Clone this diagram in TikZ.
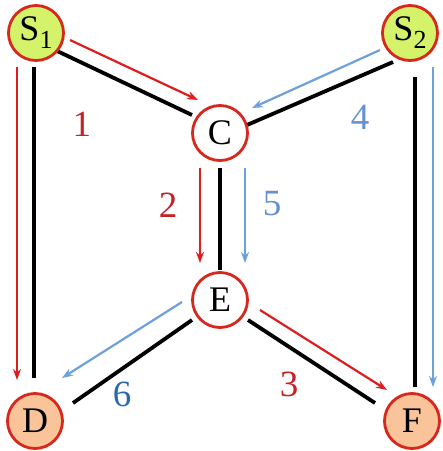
\documentclass[tikz,border=0pt]{standalone}
\usepackage{fontspec}
\setmainfont{Liberation Serif}
\usetikzlibrary{arrows.meta}
\definecolor{ringred}{RGB}{214,40,28}
\definecolor{arrred}{RGB}{222,30,30}
\definecolor{lblred}{RGB}{196,34,40}
\definecolor{arrblue}{RGB}{110,160,220}
\definecolor{lblblue}{RGB}{100,145,210}
\definecolor{darkblue}{RGB}{40,105,175}
\definecolor{sfill}{RGB}{212,242,106}
\definecolor{dfill}{RGB}{249,196,154}
\tikzset{
  vnode/.style={circle, draw=ringred, line width=2.8pt, minimum size=55pt, inner sep=0pt,
    font=\fontsize{36}{40}\selectfont},
  srcnode/.style={vnode, fill=sfill},
  sinknode/.style={vnode, fill=dfill},
  midnode/.style={vnode, fill=white},
  blackedge/.style={draw=black, line width=3.8pt},
  redarr/.style={draw=arrred, line width=2.2pt, -{Stealth[length=11pt,width=8pt]}},
  bluearr/.style={draw=arrblue, line width=2.2pt, -{Stealth[length=11pt,width=8pt]}},
  numlbl/.style={font=\fontsize{37}{40}\selectfont, inner sep=0pt}
}
\begin{document}
\begin{tikzpicture}[x=1pt,y=-1pt]
\useasboundingbox (0,0) rectangle (443,451);
\fill[white] (0,0) rectangle (443,451);
\coordinate (pS1) at (36,33);
\coordinate (pS2) at (410,33);
\coordinate (pC) at (220,133);
\coordinate (pE) at (220,300);
\coordinate (pD) at (35,421);
\coordinate (pF) at (412,421);
% black edges
\draw[blackedge] ([shift={(-2,34)}]pS1) -- ([shift={(-1,-43)}]pD);
\draw[blackedge] ([shift={(19,17)}]pS1) -- ([shift={(-28,-18)}]pC);
\draw[blackedge] ([shift={(-17,29)}]pS2) -- ([shift={(27,-8)}]pC);
\draw[blackedge] ([shift={(0,35)}]pC) -- ([shift={(0,-30)}]pE);
\draw[blackedge] ([shift={(-28,20)}]pE) -- ([shift={(38,-18)}]pD);
\draw[blackedge] ([shift={(28,20)}]pE) -- ([shift={(-37,-18)}]pF);
\draw[blackedge] ([shift={(5,44)}]pS2) -- ([shift={(3,-34)}]pF);
% coloured arrows
\draw[redarr] ([shift={(-19,34)}]pS1) -- ([shift={(-18,-41)}]pD);
\draw[redarr] ([shift={(34,7)}]pS1) -- ([shift={(-22,-33)}]pC);
\draw[bluearr] ([shift={(-30,17)}]pS2) -- ([shift={(32,-25)}]pC);
\draw[redarr] ([shift={(-20,35)}]pC) -- ([shift={(-20,-37)}]pE);
\draw[bluearr] ([shift={(25,35)}]pC) -- ([shift={(25,-37)}]pE);
\draw[bluearr] ([shift={(-38,2)}]pE) -- ([shift={(27,-43)}]pD);
\draw[redarr] ([shift={(40,10)}]pE) -- ([shift={(-25,-31)}]pF);
\draw[bluearr] ([shift={(23,34)}]pS2) -- ([shift={(21,-34)}]pF);
% nodes
\node[srcnode] (S1) at (pS1) {S\raisebox{-0.22em}{\fontsize{26}{28}\selectfont 1}};
\node[srcnode] (S2) at (pS2) {S\raisebox{-0.22em}{\fontsize{26}{28}\selectfont 2}};
\node[midnode] (C) at (pC) {C};
\node[midnode] (E) at (pE) {E};
\node[sinknode] (D) at (pD) {D};
\node[sinknode] (F) at (pF) {F};
% labels
\node[numlbl, text=lblred] (l1) at (82,124) {1};
\node[numlbl, text=lblred] (l2) at (168,205) {2};
\node[numlbl, text=lblred] (l3) at (289,384) {3};
\node[numlbl, text=lblblue] (l4) at (360,117) {4};
\node[numlbl, text=lblblue] (l5) at (272,204) {5};
\node[numlbl, text=darkblue] (l6) at (122,394) {6};
\end{tikzpicture}
\end{document}
